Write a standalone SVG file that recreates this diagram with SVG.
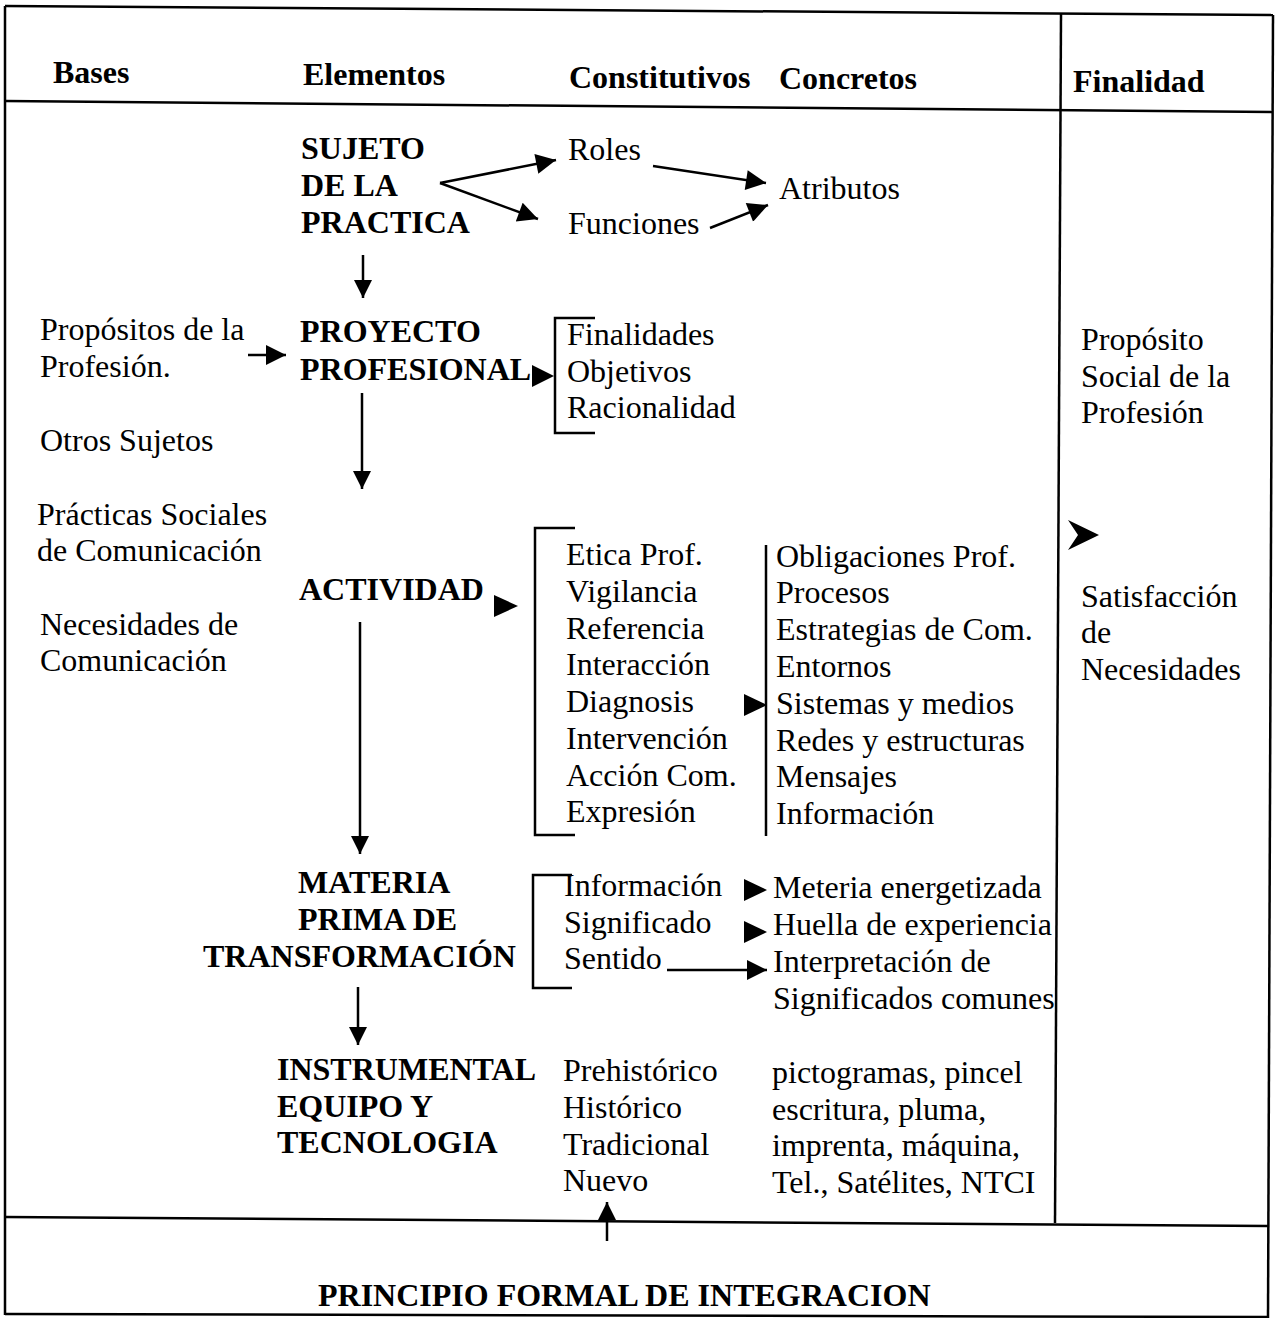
<svg xmlns="http://www.w3.org/2000/svg" width="1279" height="1318" viewBox="0 0 1279 1318">
<defs>
<style>
text{font-family:"Liberation Serif","Times New Roman",serif;font-size:32px;fill:#000}
.b{font-weight:bold}
.ln{stroke:#000;stroke-width:2.5;fill:none}
.fr{stroke:#000;stroke-width:2.5;fill:none}
.ah{fill:#000}
</style>
<marker id="ah" viewBox="0 0 10 10" refX="10" refY="5" markerWidth="26" markerHeight="20" markerUnits="userSpaceOnUse" orient="auto"><path d="M0,0 L10,5 L0,10 z"/></marker>
<marker id="ahs" viewBox="0 0 10 10" refX="10" refY="5" markerWidth="22" markerHeight="18" markerUnits="userSpaceOnUse" orient="auto"><path d="M0,0 L10,5 L0,10 z"/></marker>
</defs>
<rect width="1279" height="1318" fill="#fff"/>

<g id="frame">
<line class="fr" x1="5" y1="6" x2="1273" y2="15"/>
<line class="fr" x1="5" y1="6" x2="5" y2="1315"/>
<line class="fr" x1="1273" y1="15" x2="1268" y2="1318"/>
<line class="fr" x1="5" y1="101" x2="1273" y2="112"/>
<line class="fr" x1="1061" y1="14" x2="1055" y2="1223"/>
<line class="fr" x1="5" y1="1217" x2="1268" y2="1226"/>
<line class="fr" x1="5" y1="1314" x2="1268" y2="1317"/>
</g>

<g id="header">
<text class="b" x="53" y="83">Bases</text>
<text class="b" x="303" y="85">Elementos</text>
<text class="b" x="569" y="88">Constitutivos</text>
<text class="b" x="779" y="89">Concretos</text>
<text class="b" x="1073" y="92">Finalidad</text>
</g>

<g id="sujeto">
<text class="b" x="301" y="159">SUJETO</text>
<text class="b" x="301" y="196">DE LA</text>
<text class="b" x="301" y="233">PRACTICA</text>
</g>
<g id="roles"><text x="568" y="160">Roles</text></g>
<g id="funciones"><text x="568" y="234">Funciones</text></g>
<g id="atributos"><text x="779" y="199">Atributos</text></g>

<g id="propositos">
<text x="40" y="340">Propósitos de la</text>
<text x="40" y="377">Profesión.</text>
</g>
<g id="proyecto">
<text class="b" x="300" y="342">PROYECTO</text>
<text class="b" x="300" y="380">PROFESIONAL</text>
</g>
<g id="proyecto-lista">
<path class="ln" d="M595,318 H555 V433 H595"/>
<text x="567" y="345">Finalidades</text>
<text x="567" y="382">Objetivos</text>
<text x="567" y="418">Racionalidad</text>
</g>
<g id="otros"><text x="40" y="451">Otros Sujetos</text></g>
<g id="practicas">
<text x="37" y="525">Prácticas Sociales</text>
<text x="37" y="561">de Comunicación</text>
</g>
<g id="necesidades">
<text x="40" y="635">Necesidades de</text>
<text x="40" y="671">Comunicación</text>
</g>

<g id="actividad"><text class="b" x="299" y="600">ACTIVIDAD</text></g>
<g id="actividad-lista">
<path class="ln" d="M575,528 H535 V835 H575"/>
<text x="566" y="565">Etica Prof.</text>
<text x="566" y="602">Vigilancia</text>
<text x="566" y="639">Referencia</text>
<text x="566" y="675">Interacción</text>
<text x="566" y="712">Diagnosis</text>
<text x="566" y="749">Intervención</text>
<text x="566" y="786">Acción Com.</text>
<text x="566" y="822">Expresión</text>
</g>
<g id="actividad-concretos">
<line class="ln" x1="766" y1="545" x2="766" y2="836"/>
<text x="776" y="567">Obligaciones Prof.</text>
<text x="776" y="603">Procesos</text>
<text x="776" y="640">Estrategias de Com.</text>
<text x="776" y="677">Entornos</text>
<text x="776" y="714">Sistemas y medios</text>
<text x="776" y="751">Redes y estructuras</text>
<text x="776" y="787">Mensajes</text>
<text x="776" y="824">Información</text>
</g>

<g id="materia">
<text class="b" x="298" y="893">MATERIA</text>
<text class="b" x="298" y="930">PRIMA DE</text>
<text class="b" x="203" y="967">TRANSFORMACIÓN</text>
</g>
<g id="materia-lista">
<path class="ln" d="M572,875 H533 V988 H572"/>
<text x="564" y="896">Información</text>
<text x="564" y="933">Significado</text>
<text x="564" y="969">Sentido</text>
</g>
<g id="materia-concretos">
<text x="773" y="898">Meteria energetizada</text>
<text x="773" y="935">Huella de experiencia</text>
<text x="773" y="972">Interpretación de</text>
<text x="773" y="1009">Significados comunes</text>
</g>

<g id="instrumental">
<text class="b" x="277" y="1080">INSTRUMENTAL</text>
<text class="b" x="277" y="1117">EQUIPO Y</text>
<text class="b" x="277" y="1153">TECNOLOGIA</text>
</g>
<g id="instrumental-lista">
<text x="563" y="1081">Prehistórico</text>
<text x="563" y="1118">Histórico</text>
<text x="563" y="1155">Tradicional</text>
<text x="563" y="1191">Nuevo</text>
</g>
<g id="instrumental-concretos">
<text x="772" y="1083">pictogramas, pincel</text>
<text x="772" y="1120">escritura, pluma,</text>
<text x="772" y="1156">imprenta, máquina,</text>
<text x="772" y="1193">Tel., Satélites, NTCI</text>
</g>

<g id="finalidad-proposito">
<text x="1081" y="350">Propósito</text>
<text x="1081" y="387">Social de la</text>
<text x="1081" y="423">Profesión</text>
</g>
<g id="finalidad-satisfaccion">
<text x="1081" y="607">Satisfacción</text>
<text x="1081" y="643">de</text>
<text x="1081" y="680">Necesidades</text>
</g>

<g id="principio"><text class="b" x="318" y="1306">PRINCIPIO FORMAL DE INTEGRACION</text></g>

<g id="connectors">
<line class="ln" x1="440" y1="183" x2="556" y2="160" marker-end="url(#ah)"/>
<line class="ln" x1="440" y1="183" x2="538" y2="219" marker-end="url(#ah)"/>
<line class="ln" x1="653" y1="166" x2="766" y2="183" marker-end="url(#ah)"/>
<line class="ln" x1="710" y1="228" x2="768" y2="205" marker-end="url(#ah)"/>
<line class="ln" x1="363" y1="255" x2="363" y2="298" marker-end="url(#ahs)"/>
<line class="ln" x1="248" y1="355" x2="286" y2="355" marker-end="url(#ah)"/>
<polygon class="ah" points="532,365 554,376 532,387"/>
<line class="ln" x1="362" y1="393" x2="362" y2="489" marker-end="url(#ahs)"/>
<polygon class="ah" points="494,595 518,606 494,617"/>
<polygon class="ah" points="744,694 767,705 744,716"/>
<line class="ln" x1="360" y1="622" x2="360" y2="854" marker-end="url(#ahs)"/>
<polygon class="ah" points="744,879 767,890 744,901"/>
<polygon class="ah" points="744,921 767,932 744,943"/>
<line class="ln" x1="667" y1="970" x2="767" y2="970" marker-end="url(#ah)"/>
<line class="ln" x1="358" y1="987" x2="358" y2="1045" marker-end="url(#ahs)"/>
<line class="ln" x1="607" y1="1241" x2="607" y2="1202" marker-end="url(#ahs)"/>
<polygon class="ah" points="1068,520 1099,535 1068,550 1078,535"/>
</g>
</svg>
